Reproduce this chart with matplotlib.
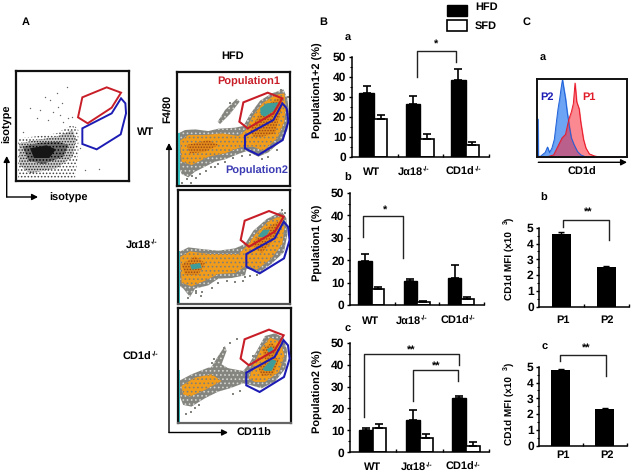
import matplotlib
matplotlib.use('Agg')
import matplotlib.pyplot as plt
from matplotlib.patches import Polygon, Rectangle

plt.rcParams['font.family'] = ['Liberation Sans', 'DejaVu Sans']
plt.rcParams['font.weight'] = 'bold'
plt.rcParams['text.hinting'] = 'no_hinting'
plt.rcParams['text.hinting_factor'] = 1
plt.rcParams['hatch.linewidth'] = 0.7

W, H = 633, 475
FS = 7.9

# ---------- data: bar charts ----------
groups = ['WT', 'J\u03b118', 'CD1d']
a_hfd = [32, 26.6, 38.2]; a_hfd_top = [35.5, 30.6, 44]
a_sfd = [18.8, 9, 5.8];   a_sfd_top = [21, 11.3, 7.6]
b_hfd = [19.4, 10.7, 11.9]; b_hfd_top = [22.8, 11.6, 17.6]
b_sfd = [7.2, 1.2, 2.5];    b_sfd_top = [7.8, 1.8, 3.6]
c_hfd = [10, 14.6, 24.6]; c_hfd_top = [10.9, 19.1, 25.8]
c_sfd = [10.9, 6.4, 3];   c_sfd_top = [13, 8.2, 4.5]
pops = ['P1', 'P2']
mfi_b = [4.6, 2.53]; mfi_b_top = [4.7, 2.6]
mfi_c = [4.77, 2.32]; mfi_c_top = [4.85, 2.4]

# ---------- data: histogram (channel, height) ----------
p2_x = [22, 24, 25, 27, 30, 45, 52, 58, 65, 72, 78, 83, 88, 92, 96, 100, 105, 110, 116, 122, 130, 140, 150, 165, 285]
p2_y = [242, 130, 235, 240, 240, 228, 212, 228, 215, 190, 140, 100, 70, 40, 15, 40, 70, 110, 150, 185, 205, 225, 235, 241, 242]
p1_x = [22, 50, 70, 85, 95, 105, 115, 122, 128, 133, 138, 145, 150, 158, 165, 175, 190, 205, 285]
p1_y = [242, 241, 235, 205, 185, 175, 130, 110, 85, 25, 80, 100, 140, 190, 215, 232, 238, 241, 242]

# ---------- data: gates ----------
red_gate = [(205, 97), (278, 68), (322, 85), (295, 130), (218, 175), (193, 155)]
blue_gate = [(210, 197), (295, 150), (322, 100), (335, 115), (340, 155), (323, 210), (250, 255), (210, 235)]
iso_red = [(247, 292), (320, 262), (363, 278), (335, 323), (263, 370), (234, 352)]
iso_blue = [(247, 385), (335, 340), (363, 295), (376, 310), (378, 340), (362, 403), (290, 448), (247, 432)]

# ---------- data: density outlines ----------
iso_levels = [
    ([(55, 415), (100, 410), (170, 400), (215, 375), (235, 390), (235, 460), (225, 535), (55, 535)], 'white', '#444444', '.....'),
    ([(58, 430), (110, 420), (170, 410), (218, 390), (228, 420), (218, 470), (170, 505), (90, 520), (58, 495)], '#c8c8c8', '#222222', '......'),
    ([(68, 440), (120, 428), (175, 425), (205, 435), (190, 470), (130, 492), (85, 482)], '#6e6e6e', '#000000', '.....'),
    ([(90, 445), (140, 436), (168, 448), (148, 474), (102, 474)], '#151515', None, None),
]
iso_dots_x = [200, 150, 175, 120, 90, 180, 205, 135, 160, 110, 190, 215, 240, 298, 255, 185, 170, 145, 225, 70]
iso_dots_y = [260, 300, 320, 330, 325, 345, 355, 290, 335, 355, 365, 350, 445, 508, 510, 310, 280, 360, 380, 395]

GRAY, ORANGE, BROWN, TEAL = '#858580', '#f29c1c', '#c8701a', '#3f9c98'
wt_levels = [
    ([(10, 190), (30, 180), (60, 178), (100, 183), (130, 176), (180, 173), (205, 168), (225, 133), (255, 92), (290, 70), (325, 58), (337, 85), (342, 130), (337, 180), (320, 212), (280, 247), (250, 260), (215, 243), (190, 252), (150, 268), (120, 275), (90, 290), (60, 305), (40, 322), (20, 312), (10, 285)], GRAY),
    ([(128, 155), (150, 120), (185, 86), (194, 95), (165, 132), (135, 162)], GRAY),
    ([(15, 212), (40, 195), (90, 195), (140, 190), (190, 198), (213, 180), (232, 140), (262, 100), (300, 75), (328, 70), (332, 110), (328, 155), (308, 203), (265, 243), (235, 230), (195, 232), (150, 250), (100, 260), (50, 285), (20, 275)], ORANGE),
    ([(35, 225), (100, 210), (130, 225), (90, 245), (45, 250)], BROWN),
    ([(225, 180), (250, 140), (290, 95), (320, 80), (320, 110), (300, 190), (260, 200), (235, 200)], BROWN),
    ([(255, 115), (275, 100), (310, 97), (300, 120), (270, 140), (258, 135)], TEAL),
]
wt_dots_x = [35, 50, 62, 75, 92, 108, 130, 150, 175, 200, 225, 262, 280, 305, 165, 135, 22, 48, 58, 120, 340, 318]
wt_dots_y = [328, 318, 325, 312, 302, 292, 283, 276, 264, 258, 255, 268, 262, 240, 100, 150, 340, 338, 300, 290, 80, 60]
ja_levels = [
    ([(12, 192), (40, 178), (80, 183), (130, 188), (180, 181), (210, 168), (235, 128), (275, 93), (320, 70), (334, 90), (337, 140), (327, 192), (290, 227), (255, 252), (215, 242), (210, 262), (170, 270), (130, 272), (100, 292), (60, 302), (45, 327), (25, 302), (12, 292)], GRAY),
    ([(15, 207), (45, 190), (100, 198), (150, 198), (190, 198), (215, 175), (240, 140), (280, 100), (325, 80), (328, 120), (322, 168), (288, 213), (245, 245), (215, 232), (180, 255), (130, 258), (90, 278), (50, 295), (20, 285)], ORANGE),
    ([(20, 230), (60, 205), (90, 225), (70, 260), (30, 260)], BROWN),
    ([(230, 170), (265, 125), (310, 100), (300, 150), (260, 195)], BROWN),
    ([(248, 145), (265, 125), (285, 125), (270, 150)], TEAL),
    ([(45, 230), (75, 225), (80, 240), (50, 245)], TEAL),
]
ja_dots_x = [40, 62, 78, 110, 130, 155, 180, 210, 225, 245, 205, 62, 80, 330, 320]
ja_dots_y = [330, 315, 325, 300, 285, 278, 282, 268, 265, 260, 280, 310, 312, 75, 65]
cd_levels = [
    ([(105, 190), (130, 150), (150, 120), (155, 135), (140, 175), (165, 190)], GRAY),
    ([(12, 225), (50, 205), (100, 185), (150, 185), (205, 195), (225, 170), (245, 135), (270, 90), (300, 82), (325, 95), (337, 135), (332, 187), (300, 227), (260, 247), (225, 237), (205, 232), (165, 247), (130, 257), (90, 277), (50, 302), (25, 297), (15, 272)], GRAY),
    ([(20, 240), (60, 215), (110, 205), (140, 225), (90, 252), (45, 272), (25, 265)], ORANGE),
    ([(222, 218), (236, 175), (260, 125), (285, 95), (318, 108), (328, 150), (312, 198), (270, 228), (240, 228)], ORANGE),
    ([(262, 130), (290, 110), (310, 130), (290, 160), (270, 160)], BROWN),
    ([(250, 185), (285, 150), (312, 160), (295, 205), (260, 210)], BROWN),
    ([(275, 130), (290, 122), (298, 135), (285, 145)], TEAL),
    ([(262, 190), (290, 160), (305, 165), (290, 195), (270, 195)], TEAL),
]
cd_dots_x = [185, 165, 147, 147, 118, 110, 235, 260, 33, 48, 60, 72, 175, 195]
cd_dots_y = [99, 110, 125, 140, 158, 172, 150, 120, 325, 318, 305, 298, 263, 255]

fig = plt.figure(figsize=(W / 100, H / 100), dpi=100, facecolor='white')


def make_ax(x0, x1, ytop, ybot):
    return fig.add_axes([x0 / W, 1 - ybot / H, (x1 - x0) / W, (ybot - ytop) / H])


def txt(x, y, s, ha='center', va='center', rot=0, color='black', fs=FS):
    fig.text(x / W, 1 - y / H, s, ha=ha, va=va, rotation=rot, color=color, fontsize=fs, fontweight='bold')


def sup_label(xr, y, s):
    # name right-aligned, tiny -/- superscript after it
    fig.text((xr - 9) / W, 1 - y / H, s, ha='right', va='center', fontsize=FS, fontweight='bold')
    fig.text((xr - 9) / W, 1 - (y - 2.5) / H, '-/-', ha='left', va='center', fontsize=4.8, fontweight='bold')


overlay = fig.add_axes([0, 0, 1, 1], zorder=10)
overlay.set_xlim(0, W); overlay.set_ylim(H, 0); overlay.axis('off')


def arrow(x0, y0, x1, y1):
    overlay.annotate('', xy=(x1, y1), xytext=(x0, y0),
                     arrowprops=dict(arrowstyle='-|>,head_width=0.18,head_length=0.35', color='black', lw=1, shrinkA=0, shrinkB=0))


def flow_panel(pos, xlim, ylim, levels, dots_x, dots_y, off, edge2='#111111'):
    ax = make_ax(*pos)
    ax.set_xlim(*xlim); ax.set_ylim(*ylim)
    ax.set_xticks([]); ax.set_yticks([])
    ax.scatter(dots_x, dots_y, s=3, marker='s', c=GRAY, lw=0, zorder=1)
    for pts, col in levels:
        if col == GRAY:
            ax.add_patch(Polygon(pts, closed=True, fc=col, ec='#d4d4d0', lw=0, hatch='....', zorder=1))
        elif col == ORANGE:
            ax.add_patch(Polygon(pts, closed=True, fc=col, ec='#80807a', lw=0, hatch='....', zorder=1))
        elif col == BROWN:
            ax.add_patch(Polygon(pts, closed=True, fc='#e08a1c', ec='#9c4410', lw=0, hatch='......', zorder=1))
        else:
            ax.add_patch(Polygon(pts, closed=True, fc=col, ec='none', zorder=1))
    ax.fill_between([xlim[0] + 3, xlim[0] + 8], ylim[0], ylim[0] - 0.46 * (ylim[0] - ylim[1]), color='#35c8c8', lw=0, zorder=2)
    ax.fill_between([xlim[0], xlim[0] + 3], ylim[0] - 0.46 * (ylim[0] - ylim[1]), ylim[0] - 0.55 * (ylim[0] - ylim[1]), color='#a84a20', lw=0, zorder=2)
    rg = [(x + off[0], y + off[1]) for x, y in red_gate]
    bg = [(x + off[0], y + off[1]) for x, y in blue_gate]
    ax.add_patch(Polygon(bg, closed=True, fc='none', ec='#1c1cb4', lw=1.5, zorder=3))
    ax.add_patch(Polygon(rg, closed=True, fc='none', ec='#c81e28', lw=1.5, zorder=3))
    for s in ax.spines.values():
        s.set_linewidth(1.6); s.set_color('#111111')
    ax.spines['bottom'].set_color(edge2)
    return ax


# ---------- Panel A ----------
ax = make_ax(16.3, 128.7, 71, 181)
ax.set_xlim(49, 386); ax.set_ylim(543, 213)
ax.set_xticks([]); ax.set_yticks([])
ax.scatter(iso_dots_x, iso_dots_y, s=1, c='#666666', lw=0)
for pts, fc, hc, ht in iso_levels:
    if ht:
        ax.add_patch(Polygon(pts, closed=True, fc=fc, ec=hc, lw=0, hatch=ht))
    else:
        ax.add_patch(Polygon(pts, closed=True, fc=fc, ec='none'))
ax.add_patch(Polygon(iso_blue, closed=True, fc='none', ec='#1c1cb4', lw=1.4))
ax.add_patch(Polygon(iso_red, closed=True, fc='none', ec='#c81e28', lw=1.4))
for s in ax.spines.values():
    s.set_linewidth(1.6); s.set_color('#111111')

flow_panel((177, 289.7, 71.7, 185.7), (6, 344), (347, 5), wt_levels, wt_dots_x, wt_dots_y, (0, 0))
flow_panel((177.7, 290, 189.7, 304), (8, 345), (348, 5), ja_levels, ja_dots_x, ja_dots_y, (4, 1), '#555555')
flow_panel((177.5, 291, 308.3, 423.3), (8, 348), (352, 7), cd_levels, cd_dots_x, cd_dots_y, (4, 3), '#666666')

txt(25.7, 22, 'A')
txt(233, 56, 'HFD')
txt(7.3, 124, 'isotype', rot=90)
txt(68, 198, 'isotype')
txt(146, 132, 'WT')
txt(168, 109, 'F4/80', rot=90)
sup_label(160, 245, groups[1])
sup_label(160.5, 357, groups[2])
txt(254, 433, 'CD11b')
txt(248.3, 82, 'Population1', color='#c81e28')
txt(256.7, 171, 'Population2', color='#3c3cb4')
arrow(6.7, 197, 6.7, 156)
arrow(6.7, 197, 38, 197)
arrow(169, 432.5, 169, 143)
arrow(169, 432.5, 228, 432.5)


def style_axes(ax):
    for k in ('top', 'right'):
        ax.spines[k].set_visible(False)
    for k in ('left', 'bottom'):
        ax.spines[k].set_linewidth(1.1)
    ax.tick_params(axis='y', which='major', direction='out', length=2.5, width=1, labelsize=FS + 0.6, pad=1.5)
    ax.tick_params(axis='y', which='minor', direction='out', length=1.5, width=0.8)


# ---------- Panel B ----------
def bar_panel(pos, hfd, hfd_top, sfd, sfd_top, centers, wh, ws, xlabel_y, xlabel_x):
    ax = make_ax(*pos)
    ax.set_xlim(0, 3); ax.set_ylim(0, 50)
    for i in range(3):
        ax.bar(centers[i], hfd[i], width=-wh, align='edge', color='black', ec='black', lw=1)
        ax.bar(centers[i], sfd[i], width=ws, align='edge', color='white', ec='black', lw=1.2)
        ax.errorbar(centers[i] - wh / 2, hfd[i], yerr=[[0], [hfd_top[i] - hfd[i]]], color='black', capsize=3, lw=1.2, capthick=1.2)
        ax.errorbar(centers[i] + ws / 2, sfd[i], yerr=[[0], [sfd_top[i] - sfd[i]]], color='black', capsize=3, lw=1.2, capthick=1.2)
    style_axes(ax)
    ax.set_xticks([1, 2, 3]); ax.set_xticklabels([])
    ax.set_yticks(range(0, 51, 10)); ax.set_yticks(range(5, 50, 10), minor=True)
    ax.tick_params(axis='x', direction='in', length=2.5, width=1)
    txt(xlabel_x[0], xlabel_y, groups[0])
    sup_label(xlabel_x[1] + 15, xlabel_y, groups[1])
    sup_label(xlabel_x[2] + 17, xlabel_y, groups[2])
    return ax


def bracket(ax, x0, x1, y, y0, y1, star_x, star_y, star):
    ax.plot([x0, x0, x1, x1], [y0, y, y, y1], color='#222222', lw=1, clip_on=False)
    ax.text(star_x, star_y, star, ha='center', va='center', fontsize=FS, fontweight='bold', clip_on=False)


ax_a = bar_panel((351.7, 489.3, 56.7, 157), a_hfd, a_hfd_top, a_sfd, a_sfd_top, [0.486, 1.496, 2.485], 0.32, 0.29, 171.7, [371.3, 416.7, 466.7])
bracket(ax_a, 1.424, 2.267, 53, 40, 47.5, 1.838, 55.8, '*')
ax_b = bar_panel((350, 484, 192.7, 305), b_hfd, b_hfd_top, b_sfd, b_sfd_top, [0.49, 1.5, 2.49], 0.30, 0.28, 321, [370.7, 415, 461])
bracket(ax_b, 0.298, 1.193, 39.6, 30.4, 21, 0.784, 42.2, '*')
ax_c = bar_panel((350, 489.3, 342.7, 452.3), c_hfd, c_hfd_top, c_sfd, c_sfd_top, [0.489, 1.5, 2.5], 0.30, 0.29, 467.3, [372.7, 420, 466])
bracket(ax_c, 0.30, 2.34, 44.7, 16.3, 39.8, 1.329, 46.6, '**')
bracket(ax_c, 1.357, 2.326, 37.5, 23.4, 32.7, 1.852, 39.3, '**')

txt(323, 21.7, 'B')
txt(347.7, 37.7, 'a')
txt(347.7, 178.3, 'b')
txt(347.7, 329.3, 'c')
txt(317.7, 90, 'Population1+2 (%)', rot=90)
txt(317.7, 242.5, 'Ppulation1 (%)', rot=90)
txt(317.7, 391, 'Population2 (%)', rot=90)

overlay.add_patch(Rectangle((447.3, 4.7), 20, 11, fc='black', ec='black', lw=1))
overlay.add_patch(Rectangle((447.3, 20), 20, 11, fc='white', ec='black', lw=1.2))
txt(475, 6.7, 'HFD', ha='left')
txt(475, 25.7, 'SFD', ha='left')

# ---------- Panel C ----------
ax = make_ax(537.3, 626.7, 79.3, 157.3)
ax.set_xlim(22, 285); ax.set_ylim(242, 14)
ax.set_xticks([]); ax.set_yticks([])
ax.fill_between(p2_x, p2_y, 242, color='#3c86f0', alpha=0.75, lw=0.7)
ax.fill_between(p1_x, p1_y, 242, color='#f82838', alpha=0.55, lw=0.7)
ax.plot(p2_x, p2_y, color='#2060d8', lw=0.7)
ax.plot(p1_x, p1_y, color='#e81828', lw=0.7)
for s in ax.spines.values():
    s.set_linewidth(1.4); s.set_color('#111111')
ax.text(52, 65, 'P2', color='#1c1cb4', fontsize=FS, fontweight='bold', ha='center', va='center')
ax.text(175, 65, 'P1', color='#e01c28', fontsize=FS, fontweight='bold', ha='center', va='center')
arrow(538.3, 162.3, 627, 162.3)
txt(582, 171.7, 'CD1d')


def mfi_panel(pos, vals, tops, lefts, width, label_y, label_x):
    ax = make_ax(*pos)
    ax.set_xlim(0, 2); ax.set_ylim(0, 5)
    for i in range(2):
        ax.bar(lefts[i], vals[i], width=width, align='edge', color='black', lw=0)
        ax.errorbar(lefts[i] + width / 2, vals[i], yerr=[[0], [tops[i] - vals[i]]], color='black', capsize=2.5, lw=1, capthick=1)
    style_axes(ax)
    ax.set_xticks([1, 2]); ax.set_xticklabels([])
    ax.set_yticks(range(6)); ax.set_yticks([0.5 + i for i in range(5)], minor=True)
    ax.tick_params(axis='x', direction='in', length=2, width=1)
    for x, s in zip(label_x, pops):
        txt(x, label_y, s)
    return ax


ax_m1 = mfi_panel((539.3, 629.3, 227.7, 306.7), mfi_b, mfi_b_top, [0.275, 1.275], 0.422, 320, [563, 607])
bracket(ax_m1, 0.52, 1.555, 5.5, 5.03, 4.2, 1.08, 5.95, '**')
ax_m2 = mfi_panel((539.3, 626.7, 366.7, 445.7), mfi_c, mfi_c_top, [0.275, 1.276], 0.435, 455.5, [563, 607])
bracket(ax_m2, 0.48, 1.53, 5.73, 5.35, 4.4, 1.07, 6.15, '**')

txt(526.7, 22, 'C')
txt(543, 57.7, 'a')
txt(544, 198.3, 'b')
txt(545, 346.7, 'c')
for ybot in (300, 445):
    fig.text(509.3 / W, 1 - ybot / H, 'CD1d MFI (x10', rotation=90, ha='center', va='bottom', fontsize=7.2, fontweight='bold')
    fig.text(506 / W, 1 - (ybot - 75.5) / H, '3', rotation=90, ha='center', va='bottom', fontsize=4.8, fontweight='bold')
    fig.text(509.3 / W, 1 - (ybot - 79) / H, ')', rotation=90, ha='center', va='bottom', fontsize=7.2, fontweight='bold')

fig.savefig('out.png', dpi=100, facecolor='white')
